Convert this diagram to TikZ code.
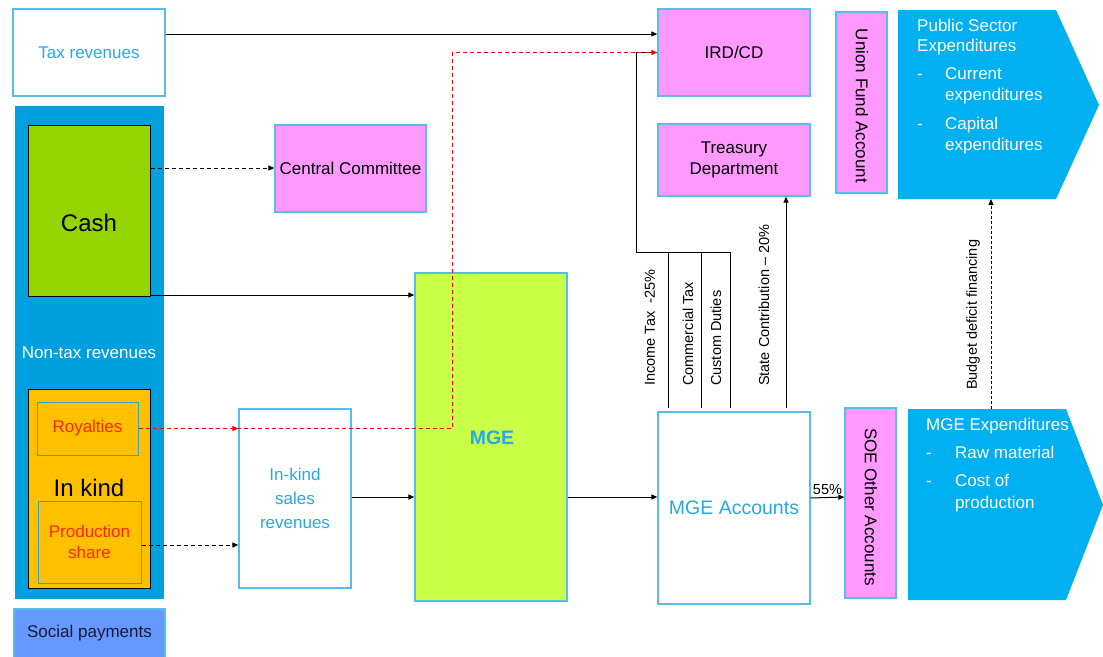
\documentclass[tikz,border=0pt]{standalone}
\usepackage{fontspec}
\setmainfont{Liberation Sans}
\usetikzlibrary{arrows.meta,calc}
\definecolor{bordc}{RGB}{85,190,235}
\definecolor{txtblue}{RGB}{41,169,225}
\definecolor{pinkc}{RGB}{255,153,255}
\definecolor{cashg}{RGB}{150,212,0}
\definecolor{mgeg}{RGB}{202,255,72}
\definecolor{orangec}{RGB}{255,192,0}
\definecolor{ntblue}{RGB}{0,160,222}
\definecolor{chevc}{RGB}{0,176,240}
\definecolor{socialc}{RGB}{102,153,255}
\definecolor{navyc}{RGB}{25,25,55}
\definecolor{redtxt}{RGB}{255,40,0}
\definecolor{tealc}{RGB}{60,160,190}
\tikzset{
  fnt/.style={font=\fontsize{17}{21}\selectfont},
  box/.style={draw=bordc, line width=1.3pt, inner sep=0pt, fnt, align=center},
  pinkbox/.style={box, fill=pinkc, text=black},
  whitebox/.style={box, fill=white, text=txtblue},
  subbox/.style={draw=tealc, line width=1pt, fill=orangec, inner sep=0pt, fnt, align=center, text=redtxt},
  arr/.style={-{Triangle[length=6pt,width=5pt]}, line width=1pt, black},
  dashline/.style={dash pattern=on 4pt off 3pt},
  reddash/.style={draw=red, line width=1pt, dash pattern=on 4pt off 3pt, -{Triangle[length=6pt,width=5pt]}},
  sidelbl/.style={font=\fontsize{14.5}{17}\selectfont, rotate=90, anchor=west, inner sep=0pt},
  chevtxt/.style={font=\fontsize{17}{21}\selectfont, text=white, anchor=base west, inner sep=0pt},
  plain/.style={line width=1pt, black}
}
\begin{document}
\begin{tikzpicture}[x=1pt,y=-1pt]
\useasboundingbox (0,0) rectangle (1103,656);

% left column
\node[whitebox, minimum width=152pt, minimum height=87pt] (tax) at (89,52.5) {Tax revenues};
\node[fill=ntblue, inner sep=0pt, minimum width=149pt, minimum height=493pt] (nontax) at (89.5,352.5) {};
\node[draw=black, line width=1pt, fill=cashg, inner sep=0pt, minimum width=122pt, minimum height=171pt] (cash) at (89,210.5) {};
\node[font=\fontsize{24}{28}\selectfont] (cashlbl) at (89,223) {Cash};
\node[fnt, text=white] (ntlbl) at (89,353) {Non-tax revenues};
\node[draw=black, line width=1pt, fill=orangec, inner sep=0pt, minimum width=122pt, minimum height=199pt] (inkind) at (89,488.5) {};
\node[subbox, minimum width=101pt, minimum height=53pt] (roy) at (87.5,428.5) {Royalties};
\node[font=\fontsize{24}{28}\selectfont] (iklbl) at (89,488) {In kind};
\node[subbox, minimum width=103pt, minimum height=82pt] (prod) at (89.5,542) {Production\\share};
\node[draw=bordc, line width=1.3pt, fill=socialc, inner sep=0pt, minimum width=151pt, minimum height=49pt, fnt, text=navyc] (social) at (89.5,633.5) {Social payments};

% middle
\node[pinkbox, minimum width=151pt, minimum height=87pt] (cc) at (350.5,168.5) {Central Committee};
\node[whitebox, minimum width=112pt, minimum height=179pt, font=\fontsize{17}{24}\selectfont] (iks) at (295,498.5) {In-kind\\sales\\revenues};
\node[box, fill=mgeg, minimum width=152pt, minimum height=328pt] (mge) at (491,437) {};
\node[font=\fontsize{19.5}{22}\selectfont\bfseries, text=txtblue] (mgelbl) at (492,438) {MGE};

% right part
\node[pinkbox, minimum width=152pt, minimum height=87pt] (ird) at (734,52.5) {IRD/CD};
\node[pinkbox, minimum width=152pt, minimum height=72pt] (treas) at (734,160) {Treasury\\Department};
\node[box, fill=pinkc, minimum width=51pt, minimum height=181pt] (ufa) at (861.5,102.5) {};
\node[fnt, rotate=-90] (ufalbl) at (862,106) {Union Fund Account};
\node[whitebox, minimum width=152pt, minimum height=192pt, font=\fontsize{19.5}{22}\selectfont] (mgea) at (734,508) {MGE Accounts};
\node[box, fill=pinkc, minimum width=51pt, minimum height=190pt] (soe) at (870.5,503) {};
\node[fnt, rotate=-90] (soelbl) at (871,507) {SOE Other Accounts};

% chevrons
\fill[chevc] (898,10) -- (1056,10) -- (1099,105) -- (1056,199) -- (898,199) -- cycle;
\fill[chevc] (908,409) -- (1066,409) -- (1103,505) -- (1066,600) -- (908,600) -- cycle;
\coordinate (psebot) at (991,199);
\coordinate (mgextop) at (991,409);
\node[chevtxt] (p1) at (917,31) {Public Sector};
\node[chevtxt] (p2) at (917,51) {Expenditures};
\node[chevtxt] (p3) at (917,79) {-};
\node[chevtxt] (p4) at (945,79) {Current};
\node[chevtxt] (p5) at (945,100) {expenditures};
\node[chevtxt] (p6) at (917,129) {-};
\node[chevtxt] (p7) at (945,129) {Capital};
\node[chevtxt] (p8) at (945,150) {expenditures};
\node[chevtxt] (m1) at (926,430) {MGE Expenditures};
\node[chevtxt] (m2) at (926,458) {-};
\node[chevtxt] (m3) at (955,458) {Raw material};
\node[chevtxt] (m4) at (926,486) {-};
\node[chevtxt] (m5) at (955,486) {Cost of};
\node[chevtxt] (m6) at (955,508) {production};

% connectors
\draw[arr] (tax.east |- 0,34) -- (ird.west |- 0,34);
\draw[arr, dashline] (cash.east |- 0,168) -- (cc.west |- 0,168);
\draw[arr] (cash.east |- 0,295) -- (mge.west |- 0,295);
\draw[arr, dashline] (prod.east |- 0,545) -- (iks.west |- 0,545);
\draw[arr] (iks.east |- 0,497) -- (mge.west |- 0,497);
\draw[arr] (mge.east |- 0,497) -- (mgea.west |- 0,497);
\draw[arr] (mgea.east |- 0,498) -- node[above, font=\fontsize{14.5}{17}\selectfont, inner sep=2pt] {55\%} (soe.west |- 0,497);

% tax lines from MGE Accounts
\coordinate (it) at (668,408);
\coordinate (ct) at (701,408);
\coordinate (cd) at (730,408);
\coordinate (jn) at (636,252);
\coordinate (sc) at (786,408);
\draw[plain] (it) -- (it |- jn);
\draw[plain] (ct) -- (ct |- jn);
\draw[plain] (cd) -- (cd |- jn) -- (jn) |- (ird.west);
\draw[arr] (sc) -- (sc |- treas.south);
\node[sidelbl] (l1) at (650,386) {Income Tax\ \ -25\%};
\node[sidelbl] (l2) at (688,386) {Commercial Tax};
\node[sidelbl] (l3) at (716,386) {Custom Duties};
\node[sidelbl] (l4) at (764,386) {State Contribution -- 20\%};

% red royalties flow
\coordinate (rbend) at (452,240);
\draw[reddash] (roy.east) -- (roy.east -| iks.west);
\draw[reddash] (roy.east) -| (rbend) |- (ird.west);

% budget deficit
\draw[arr, densely dashed, line width=0.9pt] (mgextop) -- (psebot);
\node[sidelbl] (l5) at (973,390) {Budget deficit financing};
\end{tikzpicture}
\end{document}
